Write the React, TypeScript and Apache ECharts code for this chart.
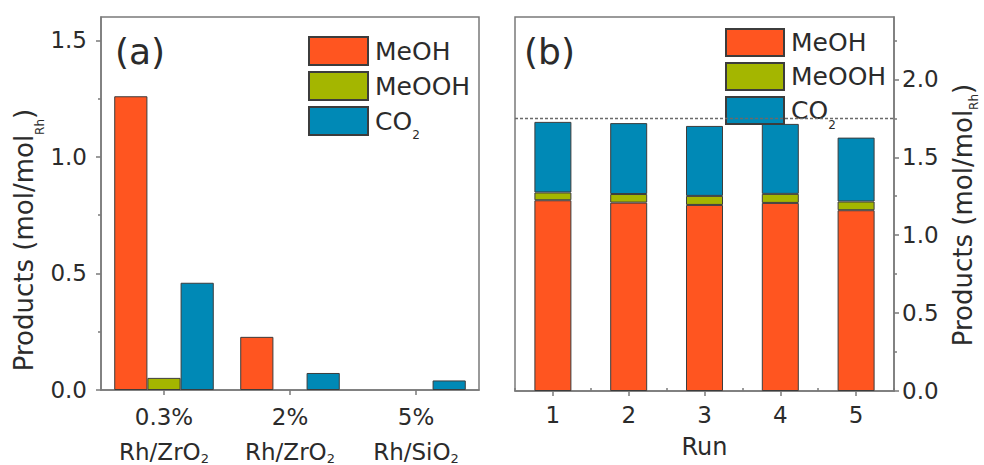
import React, { useEffect, useRef } from "react";
import * as echarts from "echarts";

// ---- data ----
const SERIES_NAMES = ["MeOH", "MeOOH", "CO2"];
const CATALYSTS = ["0.3%\nRh/ZrO2", "2%\nRh/ZrO2", "5%\nRh/SiO2"];
const MEOH_A = [1.26, 0.228, 0];
const MEOOH_A = [0.052, 0, 0];
const CO2_A = [0.46, 0.073, 0.041];

const RUNS = ["1", "2", "3", "4", "5"];
const MEOH_B = [1.224, 1.209, 1.194, 1.207, 1.16];
const MEOOH_B = [0.05, 0.055, 0.058, 0.058, 0.056];
const CO2_B = [0.453, 0.455, 0.449, 0.449, 0.41];
const REF_LEVEL = 1.75;

const Y_TICKS_A = [0, 0.5, 1.0, 1.5];
const Y_MINOR_A = [0.25, 0.75, 1.25];
const Y_TICKS_B = [0, 0.5, 1.0, 1.5, 2.0];
const Y_MINOR_B = [0.25, 0.75, 1.25, 1.75, 2.25];

// ---- style ----
const FONT = "DejaVu Sans";
const TEXT = "#2b2b2b";
const AX = "#7a7a7a";
const COLORS = ["#FF5520", "#A4B600", "#0089B6"];
const BORDER = "#3c3c3c";

const subFmt = (s: string) => "{t|" + s.replace(/(\D)(\d)$/, "$1}{s|$2") + "}";

export default function App() {
  const ref = useRef<HTMLDivElement>(null);
  useEffect(() => {
    document.body.style.margin = "0";
    const chart = echarts.init(ref.current!, null, { renderer: "svg" });

    const axisLineStyle = { color: AX, width: 1.5 };
    const yLabel = (ticks: number[], margin: number) => ({
      customValues: ticks,
      formatter: (v: number) => (ticks.some((t) => Math.abs(t - v) < 1e-6) ? v.toFixed(1) : ""),
      fontSize: 23,
      fontFamily: FONT,
      color: TEXT,
      margin,
    });
    const minorY = (grid: number, max: number, ticks: number[], pos: string) => ({
      type: "value",
      gridIndex: grid,
      position: pos,
      min: 0,
      max,
      interval: 0.25,
      axisLine: { show: false },
      axisLabel: { show: false },
      splitLine: { show: false },
      axisTick: { show: true, length: 3, customValues: ticks, lineStyle: axisLineStyle },
    });

    const legendRich = {
      t: { fontSize: 25, lineHeight: 26, fontFamily: FONT, color: TEXT },
      s: { fontSize: 12, lineHeight: 1, fontFamily: FONT, color: TEXT, verticalAlign: "top", padding: [21, 0, 0, 0] },
    };
    const legendBase = {
      orient: "vertical",
      icon: "rect",
      selectedMode: false,
      itemGap: 5,
      data: SERIES_NAMES,
      formatter: (n: string) => subFmt(n),
      textStyle: { fontSize: 25, lineHeight: 26, fontFamily: FONT, color: TEXT, padding: [0, 0, 0, 2], rich: legendRich },
    };

    const itemStyle = (i: number) => ({ color: COLORS[i], borderColor: BORDER, borderWidth: 1 });
    const noZero = (arr: number[]) => arr.map((v) => (v === 0 ? "-" : v));
    const dataA = [MEOH_A, MEOOH_A, CO2_A];
    const dataB = [MEOH_B, MEOOH_B, CO2_B];

    const titleRich = (pad: number) => ({
      t: { fontSize: 26, lineHeight: 26, fontFamily: FONT, fill: TEXT },
      s: { fontSize: 12, lineHeight: 1, fontFamily: FONT, fill: TEXT, verticalAlign: "top", padding: [pad, 0, 0, 0] },
    });
    const titleText = "{t|Products (mol/mol}{s|Rh}{t|)}";

    const option: any = {
      animation: false,
      textStyle: { fontFamily: FONT, color: TEXT },
      grid: [
        { left: 101, top: 17, width: 378, height: 373, show: true, borderColor: AX, borderWidth: 1.5, containLabel: false, outerBoundsMode: "none" },
        { left: 515, top: 17, width: 379, height: 374, show: true, borderColor: AX, borderWidth: 1.5, containLabel: false, outerBoundsMode: "none" },
      ],
      legend: [
        { ...legendBase, left: 303, top: 31, itemWidth: 59, itemHeight: 28 },
        { ...legendBase, left: 720, top: 23, itemWidth: 58, itemHeight: 27 },
      ],
      xAxis: [
        {
          type: "category",
          gridIndex: 0,
          data: CATALYSTS,
          axisLine: { show: true, lineStyle: axisLineStyle },
          axisTick: { show: true, alignWithLabel: true, length: 5, lineStyle: axisLineStyle },
          axisLabel: {
            fontSize: 23,
            fontFamily: FONT,
            color: TEXT,
            margin: 9,
            interval: 0,
            formatter: (v: string) => v.split("\n").map(subFmt).join("\n"),
            rich: {
              t: { fontSize: 23, lineHeight: 35, fontFamily: FONT, color: TEXT },
              s: { fontSize: 13, lineHeight: 1, fontFamily: FONT, color: TEXT, verticalAlign: "top", padding: [18, 0, 0, 0] },
            },
          },
          splitLine: { show: false },
        },
        {
          type: "category",
          gridIndex: 1,
          data: RUNS,
          name: "Run",
          nameLocation: "middle",
          nameGap: 44,
          nameTextStyle: { fontSize: 24, fontFamily: FONT, color: TEXT },
          axisLine: { show: true, lineStyle: axisLineStyle },
          axisTick: { show: true, alignWithLabel: true, length: 5, lineStyle: axisLineStyle },
          axisLabel: { fontSize: 23, fontFamily: FONT, color: TEXT, margin: 12 },
          splitLine: { show: false },
        },
        {
          type: "category",
          gridIndex: 1,
          data: RUNS,
          axisLine: { show: false },
          axisLabel: { show: false },
          axisTick: { show: true, length: 3, lineStyle: axisLineStyle },
          splitLine: { show: false },
        },
      ],
      yAxis: [
        {
          type: "value",
          gridIndex: 0,
          min: 0,
          max: 1.6,
          interval: 0.5,
          axisLine: { show: true, lineStyle: axisLineStyle },
          axisTick: { show: true, length: 5, customValues: Y_TICKS_A, lineStyle: axisLineStyle },
          axisLabel: yLabel(Y_TICKS_A, 14),
          splitLine: { show: false },
        },
        minorY(0, 1.6, Y_MINOR_A, "left"),
        {
          type: "value",
          gridIndex: 1,
          position: "right",
          min: 0,
          max: 2.4,
          interval: 0.5,
          axisLine: { show: true, lineStyle: axisLineStyle },
          axisTick: { show: true, length: 5, customValues: Y_TICKS_B, lineStyle: axisLineStyle },
          axisLabel: yLabel(Y_TICKS_B, 8),
          splitLine: { show: false },
        },
        minorY(1, 2.4, Y_MINOR_B, "right"),
      ],
      series: [
        ...SERIES_NAMES.map((n, i) => ({
          name: n,
          type: "bar",
          xAxisIndex: 0,
          yAxisIndex: 0,
          data: noZero(dataA[i]),
          barGap: "0%",
          barCategoryGap: "21%",
          itemStyle: itemStyle(i),
        })),
        ...SERIES_NAMES.map((n, i) => ({
          name: n,
          type: "bar",
          xAxisIndex: 1,
          yAxisIndex: 2,
          stack: "runs",
          data: dataB[i],
          barWidth: 37,
          itemStyle: itemStyle(i),
          markLine:
            i === 2
              ? {
                  silent: true,
                  symbol: "none",
                  label: { show: false },
                  lineStyle: { color: "#6a6a6a", width: 1.3, type: [3, 2] },
                  data: [{ yAxis: REF_LEVEL }],
                }
              : undefined,
        })),
      ],
      graphic: [
        { type: "text", x: 115, y: 51, style: { text: "(a)", fontSize: 36, fontFamily: FONT, fill: TEXT, verticalAlign: "middle" } },
        { type: "text", x: 524, y: 51, style: { text: "(b)", fontSize: 36, fontFamily: FONT, fill: TEXT, verticalAlign: "middle" } },
        {
          type: "text",
          x: 24,
          y: 240,
          rotation: Math.PI / 2,
          style: { text: titleText, rich: titleRich(23), align: "center", verticalAlign: "middle", fill: TEXT, fontFamily: FONT, fontSize: 26 },
        },
        {
          type: "text",
          x: 963,
          y: 215,
          rotation: Math.PI / 2,
          style: { text: titleText, rich: titleRich(18), align: "center", verticalAlign: "middle", fill: TEXT, fontFamily: FONT, fontSize: 26 },
        },
      ],
    };
    chart.setOption(option);
    return () => chart.dispose();
  }, []);
  return <div ref={ref} style={{ width: 984, height: 465 }} />;
}
